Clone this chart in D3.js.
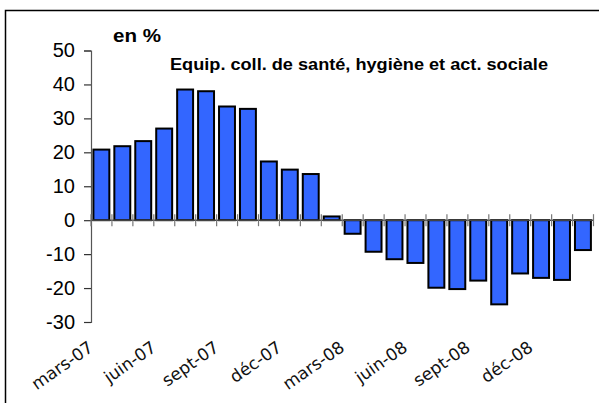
<!DOCTYPE html>
<html>
<head>
<meta charset="utf-8">
<script src="https://cdn.jsdelivr.net/npm/d3@7"></script>
<style>
  html, body { margin: 0; padding: 0; background: #fff; }
  svg { display: block; }
</style>
</head>
<body>
<svg id="chart" width="599" height="403"></svg>
<script>
const mois = ["mars-07","avr-07","mai-07","juin-07","juil-07","août-07","sept-07","oct-07","nov-07","déc-07","janv-08","févr-08",
              "mars-08","avr-08","mai-08","juin-08","juil-08","août-08","sept-08","oct-08","nov-08","déc-08","janv-09","févr-09"];
const valeurs = [20.8, 21.8, 23.3, 27.0, 38.5, 38.0, 33.5, 32.8, 17.3, 14.9, 13.6, 1.1,
                 -4.0, -9.3, -11.5, -12.6, -19.9, -20.3, -17.8, -24.8, -15.7, -17.0, -17.6, -8.8];
const yTicks = [-30, -20, -10, 0, 10, 20, 30, 40, 50];
const titre = "en %";
const sousTitre = "Equip. coll. de santé, hygiène et act. sociale";

const svg = d3.select("#chart");

// cadre
svg.append("rect")
    .attr("x", 5.5).attr("y", 10.5)
    .attr("width", 620).attr("height", 420)
    .attr("fill", "none").attr("stroke", "#000").attr("stroke-width", 1.5);

const x = d3.scaleBand().domain(mois).range([91, 593.5]).padding(0);
const y = d3.scaleLinear().domain([-30, 50]).range([322, 50.5]);
const bw = x.bandwidth();

// barres
svg.append("g").selectAll("rect")
    .data(valeurs)
    .join("rect")
    .attr("x", (d, i) => x(mois[i]) + 2.4)
    .attr("width", bw - 5)
    .attr("y", d => y(Math.max(0, d)))
    .attr("height", d => Math.abs(y(d) - y(0)))
    .attr("fill", "#3366ff")
    .attr("stroke", "#000")
    .attr("stroke-width", 2);

// axe y
const yAxis = d3.axisLeft(y).tickValues(yTicks).tickFormat(d => String(d)).tickSize(7).tickPadding(9);
const gy = svg.append("g").attr("transform", "translate(91,0)").call(yAxis);
gy.select(".domain").attr("stroke", "#555").attr("stroke-width", 1.2);
gy.selectAll(".tick line").attr("stroke", "#333").attr("stroke-width", 1.2);
gy.selectAll(".tick text")
    .attr("font-family", "Liberation Sans, Arial, sans-serif")
    .attr("font-size", 20).attr("fill", "#000");

// axe x (ligne du zéro et graduations)
const bords = mois.map(m => x(m)).concat([x(mois[mois.length - 1]) + bw]);
const gx = svg.append("g");
gx.append("line")
    .attr("x1", 91).attr("x2", bords[bords.length - 1])
    .attr("y1", y(0)).attr("y2", y(0))
    .attr("stroke", "#444").attr("stroke-width", 1.5);
gx.selectAll("line.t")
    .data(bords)
    .join("line")
    .attr("class", "t")
    .attr("x1", d => d).attr("x2", d => d)
    .attr("y1", y(0) - 6).attr("y2", y(0) + 6)
    .attr("stroke", "#777").attr("stroke-width", 1.2);

// libellés des mois (un sur trois)
svg.append("g").selectAll("text")
    .data(mois.filter((m, i) => i % 3 === 0))
    .join("text")
    .attr("transform", d => "translate(" + (x(d) + bw / 2 - 7) + ",350) rotate(-35)")
    .attr("text-anchor", "end")
    .attr("font-family", "DejaVu Sans, Verdana, sans-serif")
    .attr("font-size", 17)
    .attr("fill", "#111")
    .text(d => d);

// titres
svg.append("text")
    .attr("x", 113).attr("y", 42)
    .attr("font-family", "Liberation Sans, Arial, sans-serif")
    .attr("font-weight", "bold").attr("font-size", 18)
    .attr("textLength", 48).attr("lengthAdjust", "spacingAndGlyphs")
    .text(titre);

svg.append("text")
    .attr("x", 170).attr("y", 70)
    .attr("font-family", "Liberation Sans, Arial, sans-serif")
    .attr("font-weight", "bold").attr("font-size", 16.5)
    .attr("textLength", 378).attr("lengthAdjust", "spacingAndGlyphs")
    .text(sousTitre);
</script>
</body>
</html>
